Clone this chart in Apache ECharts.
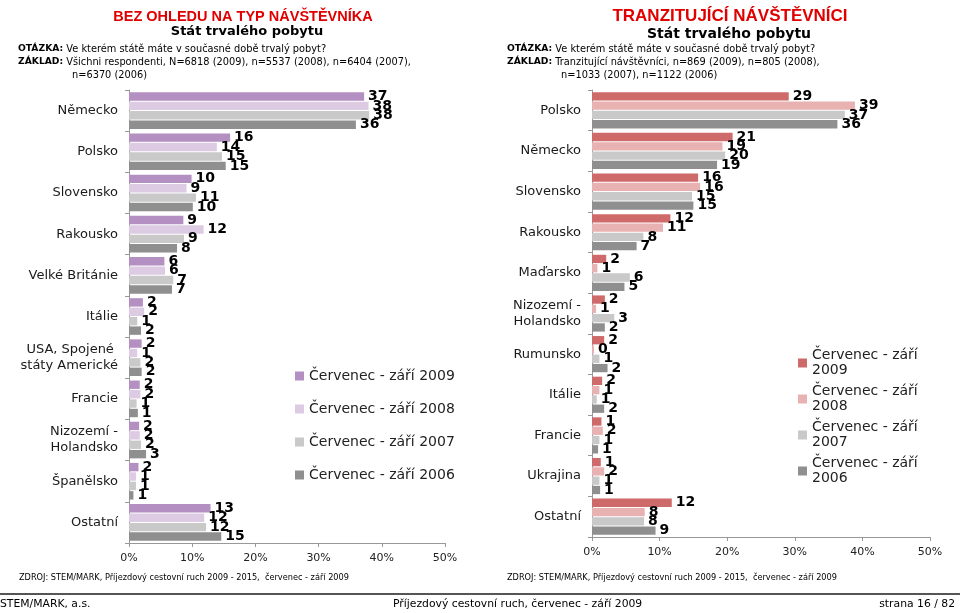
<!DOCTYPE html>
<html><head><meta charset="utf-8">
<script src="https://cdn.jsdelivr.net/npm/echarts@6/dist/echarts.min.js"></script>
<style>html,body{margin:0;padding:0;background:#fff}#c{width:960px;height:613px}</style>
</head><body><div id="c"></div>
<script>
const catsLeft = ['Německo','Polsko','Slovensko','Rakousko','Velké Británie','Itálie','USA, Spojené \nstáty Americké','Francie','Nizozemí -\nHolandsko','Španělsko','Ostatní'];
const left2009 = [37.2,16.0,9.9,8.6,5.6,2.2,2.0,1.7,1.6,1.5,12.9];
const left2008 = [37.9,13.9,9.1,11.8,5.7,2.4,1.3,1.8,1.7,1.1,11.9];
const left2007 = [38.0,14.7,10.6,8.7,7.0,1.3,1.8,1.2,1.9,1.1,12.2];
const left2006 = [35.9,15.3,10.1,7.6,6.8,1.9,2.0,1.4,2.7,0.7,14.6];

const catsRight = ['Polsko','Německo','Slovensko','Rakousko','Maďarsko','Nizozemí -\nHolandsko','Rumunsko','Itálie','Francie','Ukrajina','Ostatní'];
const right2009 = [29.1,20.8,15.7,11.6,2.1,1.9,1.8,1.5,1.4,1.3,11.8];
const right2008 = [38.9,19.3,16.0,10.5,0.8,0.6,0.3,1.1,1.6,1.8,7.8];
const right2007 = [37.4,19.7,14.8,7.6,5.6,3.3,1.1,0.7,1.1,1.1,7.7];
const right2006 = [36.3,18.5,15.0,6.6,4.8,1.9,2.3,1.8,0.9,1.2,9.4];

const namesLeft = ['Červenec - září 2009','Červenec - září 2008','Červenec - září 2007','Červenec - září 2006'];
const namesRight = ['Červenec - září\n2009','Červenec - září\n2008','Červenec - září\n2007','Červenec - září\n2006'];

const colLeft = ['#b48fc1','#dccbe3','#c9c9c9','#8f8f8f'];
const colRight = ['#cf6a6a','#e9b2b2','#c9c9c9','#8f8f8f'];
const FONT = '"DejaVu Sans", Verdana, sans-serif';
const ARIAL = '"Liberation Sans", Arial, sans-serif';

function mkSeries(name, data, color, idx){
  return {
    type:'bar', name:name, data:data, xAxisIndex:idx, yAxisIndex:idx,
    barCategoryGap:'11%', barGap:'12%',
    itemStyle:{color:color},
    label:{show:true, position:'right', distance:4, color:'#000', fontFamily:FONT, fontWeight:'bold', fontSize:14,
      formatter:p=>String(Math.round(p.value))},
    emphasis:{disabled:true}, animation:false
  };
}
function xAx(idx){
  return {type:'value', gridIndex:idx, min:0, max:50, interval:10,
    axisLine:{show:true, lineStyle:{color:'#999'}}, axisTick:{show:true, length:4, lineStyle:{color:'#999'}},
    splitLine:{show:false},
    axisLabel:{formatter:'{value}%', color:'#222', fontFamily:FONT, fontSize:11, margin:10}};
}
function yAx(idx, cats){
  return {type:'category', gridIndex:idx, data:cats, inverse:true,
    axisLine:{show:true, lineStyle:{color:'#999'}}, axisTick:{show:true, length:4, lineStyle:{color:'#999'}},
    axisLabel:{color:'#1a1a1a', fontFamily:FONT, fontSize:13, margin:11, align:'right', lineHeight:16}};
}
const chart = echarts.init(document.getElementById('c'));
chart.setOption({
  animation:false,
  title:[
    {text:'BEZ OHLEDU NA TYP NÁVŠTĚVNÍKA', left:238, top:4, textAlign:'center',
      textStyle:{color:'#e00000', fontFamily:ARIAL, fontWeight:'bold', fontSize:14.5}},
    {text:'Stát trvalého pobytu', left:242, top:20, textAlign:'center',
      textStyle:{color:'#000', fontFamily:FONT, fontWeight:'bold', fontSize:13}},
    {text:'TRANZITUJÍCÍ NÁVŠTĚVNÍCI', left:725, top:3, textAlign:'center',
      textStyle:{color:'#e00000', fontFamily:ARIAL, fontWeight:'bold', fontSize:17}},
    {text:'Stát trvalého pobytu', left:724, top:22, textAlign:'center',
      textStyle:{color:'#000', fontFamily:FONT, fontWeight:'bold', fontSize:14}}
  ],
  grid:[
    {left:129, top:90, width:316, height:453},
    {left:592, top:90, width:338, height:447}
  ],
  xAxis:[xAx(0), xAx(1)],
  yAxis:[yAx(0,catsLeft), yAx(1,catsRight)],
  legend:[
    {data:namesLeft, orient:'vertical', left:290, top:364, itemWidth:9, itemHeight:9, itemGap:19, icon:'rect',
      textStyle:{fontFamily:FONT, fontSize:14, color:'#222'}},
    {data:namesRight, orient:'vertical', left:793, top:343, itemWidth:9, itemHeight:9, itemGap:6, icon:'rect',
      textStyle:{fontFamily:FONT, fontSize:14, color:'#222', lineHeight:15}}
  ],
  series:[
    mkSeries(namesLeft[0], left2009, colLeft[0], 0),
    mkSeries(namesLeft[1], left2008, colLeft[1], 0),
    mkSeries(namesLeft[2], left2007, colLeft[2], 0),
    mkSeries(namesLeft[3], left2006, colLeft[3], 0),
    mkSeries(namesRight[0], right2009, colRight[0], 1),
    mkSeries(namesRight[1], right2008, colRight[1], 1),
    mkSeries(namesRight[2], right2007, colRight[2], 1),
    mkSeries(namesRight[3], right2006, colRight[3], 1)
  ],
  graphic:[
    {type:'text', left:18, top:44, style:{rich:{b:{fontWeight:'bold', fontSize:9.2, fontFamily:FONT}}, text:'{b|OTÁZKA:} Ve kterém státě máte v současné době trvalý pobyt?', font:'9.8px '+FONT, fill:'#000'}},
    {type:'text', left:18, top:57, style:{rich:{b:{fontWeight:'bold', fontSize:9.2, fontFamily:FONT}}, text:'{b|ZÁKLAD:} Všichni respondenti, N=6818 (2009), n=5537 (2008), n=6404 (2007),', font:'9.8px '+FONT, fill:'#000'}},
    {type:'text', left:72, top:70, style:{text:'n=6370 (2006)', font:'9.8px '+FONT, fill:'#000'}},
    {type:'text', left:507, top:44, style:{rich:{b:{fontWeight:'bold', fontSize:9.2, fontFamily:FONT}}, text:'{b|OTÁZKA:} Ve kterém státě máte v současné době trvalý pobyt?', font:'9.8px '+FONT, fill:'#000'}},
    {type:'text', left:507, top:57, style:{rich:{b:{fontWeight:'bold', fontSize:9.2, fontFamily:FONT}}, text:'{b|ZÁKLAD:} Tranzitující návštěvníci, n=869 (2009), n=805 (2008),', font:'9.8px '+FONT, fill:'#000'}},
    {type:'text', left:561, top:70, style:{text:'n=1033 (2007), n=1122 (2006)', font:'9.8px '+FONT, fill:'#000'}},
    {type:'text', left:19, top:574, style:{text:'ZDROJ: STEM/MARK, Příjezdový cestovní ruch 2009 - 2015,  červenec - září 2009', font:'8.2px '+FONT, fill:'#000'}},
    {type:'text', left:507, top:574, style:{text:'ZDROJ: STEM/MARK, Příjezdový cestovní ruch 2009 - 2015,  červenec - září 2009', font:'8.2px '+FONT, fill:'#000'}},
    {type:'rect', shape:{x:0, y:593, width:960, height:2}, style:{fill:'#555'}},
    {type:'text', left:0, top:599, style:{text:'STEM/MARK, a.s.', font:'10.8px '+FONT, fill:'#000'}},
    {type:'text', left:393, top:599, style:{text:'Příjezdový cestovní ruch, červenec - září 2009', font:'10.8px '+FONT, fill:'#000'}},
    {type:'text', right:5, top:599, style:{text:'strana 16 / 82', font:'10.8px '+FONT, fill:'#000'}}
  ]
});
</script>
</body></html>
